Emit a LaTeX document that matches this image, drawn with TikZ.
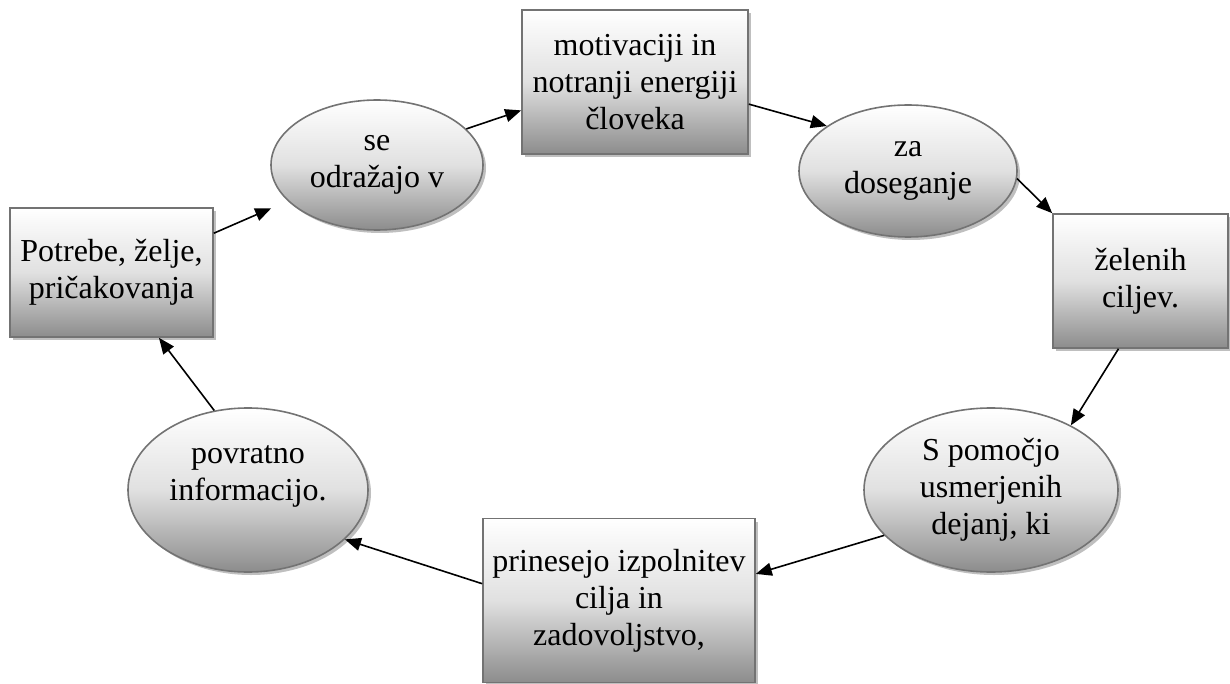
\documentclass[tikz,border=0pt]{standalone}
\usepackage{fontspec}
\setmainfont{Liberation Serif}
\usetikzlibrary{shapes.geometric,arrows.meta,shadows}
\begin{document}
\begin{tikzpicture}[x=1pt,y=-1pt,
  base/.style={draw=black!55, line width=1.6pt, top color=white, bottom color=black!45, middle color=black!12,
    drop shadow={shadow xshift=3pt,shadow yshift=-3pt,fill=black!25,opacity=1},
    font=\fontsize{32}{37}\selectfont, align=center, inner sep=0pt, text=black},
  box/.style={base, rectangle},
  ell/.style={base, ellipse},
  txt/.style={font=\fontsize{32}{37}\selectfont, align=center, inner sep=0pt, text=black},
  arr/.style={line width=1.6pt, -{Triangle[length=16pt,width=13pt]}}]
\useasboundingbox (0,0) rectangle (1230,684);
\node[box, minimum width=203pt, minimum height=129pt] (b1) at (111.5,272.5) {Potrebe, želje,\\pričakovanja};
\node[ell, minimum width=212pt, minimum height=130pt] (e1) at (377,165) {se\\odražajo v};
\node[box, minimum width=226pt, minimum height=144pt] (b2) at (635,82) {motivaciji in\\notranji energiji\\človeka};
\node[ell, minimum width=218pt, minimum height=132pt] (e2) at (908,171) {za\\doseganje};
\node[box, minimum width=175pt, minimum height=134pt] (b3) at (1140.5,281) {želenih\\ciljev.};
\node[ell, minimum width=254pt, minimum height=164pt] (e3) at (991,490) {S pomočjo\\usmerjenih\\dejanj, ki};
\node[box, minimum width=272pt, minimum height=164pt] (b4) at (619,600.5) {prinesejo izpolnitev\\cilja in\\zadovoljstvo,};
\node[ell, minimum width=240pt, minimum height=164pt] (e4) at (248,490) {};
\node[txt] (t4) at ([yshift=14pt]e4.center) {povratno\\informacijo.};
\draw[arr, shorten >=18pt] (b1.21) -- (e1.202);
\draw[arr] (e1.22) -- (b2.194);
\draw[arr] (b2.-11.5) -- (e2.151);
\draw[arr] (e2.-4) -- (b3.north west);
\draw[arr] (b3.252) -- (e3.39);
\draw[arr] (e3.203) -- (b4.11.6);
\draw[arr] (b4.173.5) -- (e4.-27);
\draw[arr] (e4.113) -- (b1.-54);
\end{tikzpicture}
\end{document}
